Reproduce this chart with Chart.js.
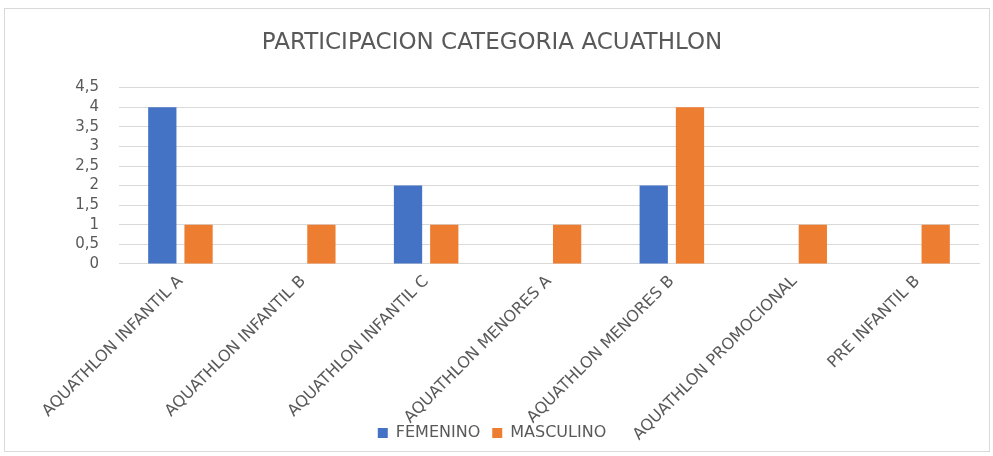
<!DOCTYPE html>
<html>
<head>
<meta charset="utf-8">
<script src="https://cdn.jsdelivr.net/npm/chart.js@4.4.1/dist/chart.umd.min.js"></script>
<style>
    html, body { margin: 0; padding: 0; background: #fff; }
    .frame {
        position: absolute;
        left: 4px; top: 8px;
        width: 984px; height: 442px;
        border: 1px solid #d9d9d9;
        background: #fff;
    }
    canvas { display: block; }
</style>
</head>
<body>
<div class="frame"><canvas id="chart"></canvas></div>
<script>
const categories = [
    'AQUATHLON INFANTIL A',
    'AQUATHLON INFANTIL B',
    'AQUATHLON INFANTIL C',
    'AQUATHLON MENORES A',
    'AQUATHLON MENORES B',
    'AQUATHLON PROMOCIONAL',
    'PRE INFANTIL B'
];
const femenino = [4, 0, 2, 0, 2, 0, 0];
const masculino = [1, 1, 1, 1, 4, 1, 1];
const yTicks = [0, 0.5, 1, 1.5, 2, 2.5, 3, 3.5, 4, 4.5];

const textColor = '#595959';
const gridColor = '#d9d9d9';
const fontFamily = "'DejaVu Sans', 'Open Sans', sans-serif";

// the long category labels run down into the legend, as in the original
const labelOverflow = {
    id: 'labelOverflow',
    afterLayout(chart) {
        chart.scales.x.bottom = chart.height;
    }
};

const ctx = document.getElementById('chart').getContext('2d');
new Chart(ctx, {
    type: 'bar',
    data: {
        labels: categories,
        datasets: [
            {
                label: 'FEMENINO',
                data: femenino,
                backgroundColor: '#4472c4',
                barPercentage: 0.78,
                categoryPercentage: 0.59
            },
            {
                label: 'MASCULINO',
                data: masculino,
                backgroundColor: '#ed7d31',
                barPercentage: 0.78,
                categoryPercentage: 0.59
            }
        ]
    },
    options: {
        responsive: true,
        maintainAspectRatio: false,
        animation: false,
        layout: {
            padding: { left: 0, right: 10, top: 6, bottom: 0 }
        },
        plugins: {
            title: {
                display: true,
                text: 'PARTICIPACION CATEGORIA ACUATHLON',
                color: textColor,
                font: { family: fontFamily, size: 23, weight: 'normal' },
                padding: { top: 14, bottom: 31 }
            },
            legend: {
                position: 'bottom',
                labels: {
                    color: textColor,
                    font: { family: fontFamily, size: 16 },
                    boxWidth: 10,
                    boxHeight: 10,
                    padding: 12
                }
            },
            tooltip: { enabled: false }
        },
        scales: {
            x: {
                grid: { display: false, drawTicks: false },
                border: { color: gridColor },
                ticks: {
                    color: textColor,
                    font: { family: fontFamily, size: 16 },
                    minRotation: 45,
                    maxRotation: 45,
                    padding: 8,
                    autoSkip: false
                },
                afterFit: scale => { scale.height = 149; }
            },
            y: {
                min: 0,
                max: 4.5,
                afterBuildTicks: scale => {
                    scale.ticks = yTicks.map(v => ({ value: v }));
                },
                grid: { color: gridColor, drawTicks: false },
                border: { display: false },
                ticks: {
                    color: textColor,
                    font: { family: fontFamily, size: 15 },
                    padding: 20,
                    autoSkip: false,
                    callback: v => v.toString().replace('.', ',')
                },
                afterFit: scale => { scale.width = 114; }
            }
        }
    },
    plugins: [labelOverflow]
});
</script>
</body>
</html>
